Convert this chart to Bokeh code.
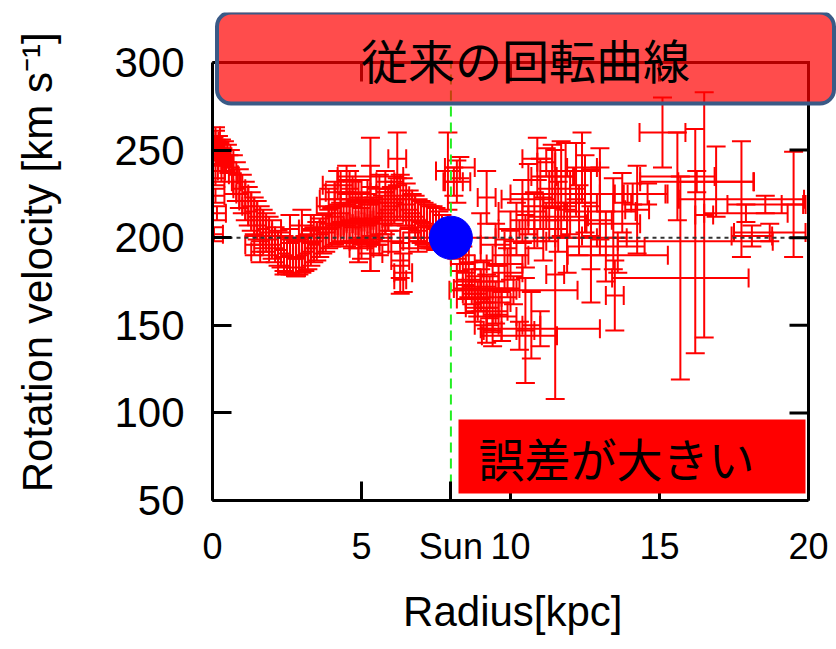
import math
from bokeh.plotting import figure
from bokeh.models import Label, FixedTicker, Range1d, ColumnDataSource
from bokeh.embed import file_html
from bokeh.resources import INLINE

# ---------------- data ----------------
# radius [kpc]
radius = [
    0.05, 0.10, 0.15, 0.20, 0.25, 0.30, 0.35, 0.40, 0.45, 0.50, 0.55, 0.60, 0.10, 0.20, 0.30,
    0.10, 0.10, 0.15, 0.05,
    0.7, 0.8, 0.9, 1.0, 1.1, 1.2, 1.3, 1.4, 1.5, 1.6, 1.7, 1.8, 1.9, 2.0,
    2.1, 2.2, 2.3, 2.4, 2.5, 2.6, 2.7, 2.8, 2.9, 3.0, 3.1, 3.2, 3.3, 3.4, 1.4, 1.6, 2.6, 3.0, 3.3, 2.4, 2.8,
    3.5, 3.6, 3.7, 3.8, 3.9, 4.0, 4.1, 4.2, 4.3, 4.4, 3.9, 4.1, 4.3, 4.6,
    4.5, 4.6, 4.7, 4.8, 4.9, 5.0, 5.1, 5.2, 5.3, 5.4, 5.5, 5.6, 5.7, 5.8, 5.9, 5.3, 5.3, 4.9, 5.3,
    4.2, 4.5, 4.7, 5.0, 5.6, 5.8, 5.0, 5.6, 6.0,
    6.0, 6.1, 6.2, 6.3, 6.4, 6.5, 6.6, 6.7, 6.2, 6.3, 6.4, 6.3,
    6.8, 6.9, 7.0, 7.1, 7.2, 7.3, 7.4, 7.5, 7.6, 7.7, 6.6, 6.9, 7.2, 7.9, 8.1, 8.2, 8.3,
    8.2, 8.3, 8.4, 8.5, 8.6, 8.7, 8.8, 8.9, 9.0, 9.1, 9.2, 9.3, 9.4, 9.5, 9.6, 9.7, 9.8, 9.9, 10.0,
    8.5, 8.8, 9.2, 9.5, 9.0, 9.2, 9.2, 9.4, 10.3, 10.1,
    10.2, 10.4, 10.5, 10.6, 10.8, 11.0, 11.1, 11.3, 11.4, 11.6, 11.7, 11.9, 12.0, 12.2, 12.3, 12.5,
    12.7, 13.0, 13.2, 10.9, 11.2, 12.4, 11.85, 12.7, 13.0, 13.45,
    11.5, 10.5, 10.7, 11.0, 13.6, 13.5, 14.25, 13.75, 14.1, 14.6,
    15.1, 15.6, 15.7, 16.2, 16.5, 16.9, 17.75, 16.25, 17.9, 18.1, 18.55, 18.7, 19.5,
]
# rotation velocity [km/s]
velocity = [
    252, 255, 250, 253, 248, 251, 246, 250, 244, 248, 242, 245, 258, 243, 238,
    234, 224, 214, 202,
    236, 232, 228, 225, 221, 218, 215, 212, 210, 207, 205, 203, 201, 199,
    196, 194, 193, 191, 190, 189, 189, 188, 189, 190, 191, 192, 194, 196, 196, 192, 205, 207, 205, 184, 183,
    198, 200, 202, 203, 205, 206, 207, 208, 209, 208, 218, 222, 226, 228,
    207, 210, 206, 209, 211, 208, 210, 207, 209, 211, 208, 210, 212, 214, 216, 219, 235, 198, 191,
    230, 233, 226, 225, 228, 232, 194, 196, 198,
    218, 220, 222, 224, 222, 219, 216, 214, 245, 187, 180, 176,
    212, 210, 209, 208, 207, 206, 206, 205, 204, 203, 200, 198, 200, 238, 232, 232, 240,
    196, 190, 185, 180, 176, 172, 168, 165, 170, 175, 160, 166, 158, 163, 170, 155, 185, 180, 190,
    165, 160, 150, 196, 200, 223, 171, 147, 144, 170,
    205, 215, 198, 222, 210, 225, 205, 218, 235, 212, 228, 200, 220, 238, 210, 225,
    200, 215, 195, 245, 243, 240, 235, 201, 225, 208,
    179, 147, 150, 148, 190, 167, 216, 220, 225, 225,
    260, 235, 177, 198, 213, 232, 222, 232, 214, 201, 219, 203, 219,
]
# radius error [kpc]
radius_err = [
    0.10, 0.10, 0.10, 0.10, 0.10, 0.10, 0.10, 0.10, 0.10, 0.10, 0.10, 0.10, 0.15, 0.10, 0.12,
    0.3, 0.3, 0.3, 0.3,
    0.15, 0.15, 0.2, 0.2, 0.2, 0.2, 0.2, 0.2, 0.2, 0.2, 0.2, 0.2, 0.2, 0.2,
    0.2, 0.2, 0.2, 0.2, 0.2, 0.2, 0.2, 0.2, 0.2, 0.2, 0.2, 0.2, 0.2, 0.2, 0.3, 0.3, 0.3, 0.4, 0.3, 0.2, 0.3,
    0.2, 0.2, 0.2, 0.3, 0.3, 0.3, 0.3, 0.3, 0.3, 0.3, 0.4, 0.5, 0.5, 0.3,
    0.3, 0.3, 0.3, 0.3, 0.3, 0.3, 0.3, 0.3, 0.3, 0.3, 0.3, 0.3, 0.3, 0.3, 0.3, 0.3, 1.1, 0.3, 0.4,
    0.5, 0.3, 0.6, 0.5, 0.4, 0.3, 0.4, 0.3, 0.4,
    0.3, 0.3, 0.3, 0.3, 0.3, 0.3, 0.3, 0.3, 0.3, 0.3, 0.3, 0.2,
    0.3, 0.3, 0.3, 0.3, 0.3, 0.3, 0.3, 0.3, 0.3, 0.3, 0.3, 0.3, 0.3, 0.4, 0.3, 0.45, 0.5,
    0.3, 0.3, 0.4, 0.3, 0.4, 0.3, 0.4, 0.4, 0.4, 0.5, 0.4, 0.4, 0.5, 0.5, 0.6, 0.5, 0.6, 0.5, 0.6,
    0.3, 0.3, 0.4, 0.5, 0.5, 0.3, 1.1, 0.3, 1.26, 2.15,
    0.6, 0.8, 0.7, 0.9, 0.8, 1.0, 0.8, 0.9, 0.7, 1.0, 0.8, 1.0, 0.9, 0.8, 1.1, 1.0,
    1.2, 1.2, 1.3, 0.5, 0.3, 0.5, 0.3, 0.3, 0.8, 0.9,
    0.3, 0.3, 0.3, 2.0, 1.68, 0.3, 0.4, 0.3, 1.1, 0.67,
    0.77, 1.25, 2.29, 2.6, 0.3, 1.27, 2.1, 1.9, 1.4, 0.68, 1.27, 1.2, 0.4,
]
# velocity error [km/s]
velocity_err = [
    5, 6, 5, 5, 6, 5, 5, 5, 6, 5, 5, 5, 5, 5, 6,
    4, 4, 4, 4,
    11, 11, 11, 11, 11, 11, 11, 11, 11, 11, 11, 11, 11, 11,
    10, 10, 10, 10, 10, 10, 10, 10, 10, 10, 10, 10, 10, 10, 6, 6, 8, 9, 8, 5, 5,
    11, 11, 11, 11, 11, 11, 11, 11, 11, 11, 10, 10, 12, 10,
    12, 12, 12, 12, 12, 12, 12, 12, 12, 12, 12, 12, 12, 12, 12, 38, 6, 12, 10,
    8, 8, 6, 8, 8, 6, 6, 6, 6,
    11, 12, 12, 12, 12, 12, 11, 11, 15, 10, 11, 8,
    12, 12, 12, 12, 12, 12, 12, 12, 11, 10, 6, 6, 6, 22, 8, 12, 6,
    8, 9, 10, 10, 10, 10, 10, 10, 12, 12, 12, 12, 12, 12, 14, 14, 14, 14, 14,
    8, 8, 10, 12, 14, 15, 8, 9, 8, 8,
    15, 18, 15, 20, 16, 20, 18, 20, 18, 20, 27, 20, 18, 16, 20, 22,
    18, 25, 20, 12, 8, 20, 19, 38, 26, 26,
    71, 30, 19, 10, 10, 20, 25, 17, 6, 6,
    20, 25, 58, 64, 70, 20, 33, 6, 5, 6, 5, 5, 30,
]

x_min, x_max = 0, 20
y_min, y_max = 50, 300
sun_radius = 8.0
sun_velocity = 200.0
x_ticks = [0, 5, 8, 10, 15, 20]
x_tick_labels = {0: "0", 5: "5", 8: "Sun", 10: "10", 15: "15", 20: "20"}
x_ticks_mirror = [0, 5, 10, 15, 20]
y_ticks = [50, 100, 150, 200, 250, 300]
title_text = "従来の回転曲線"
note_text = "誤差が大きい"
NBSP = "\u00a0"
x_title = "Radius[kpc]" + NBSP * 2
y_title = "Rotation velocity [km s\u207b\u00b9]" + NBSP

# ---------------- layout constants (pixels) ----------------
W, H = 836, 649
AX_LEFT, AX_RIGHT, AX_TOP, AX_BOTTOM = 212, 808, 62, 500   # axis box in the picture
CANVAS_TOP = 12                                            # frame reaches up to the callout
px_x = (AX_RIGHT - AX_LEFT) / (x_max - x_min)
px_y = (AX_BOTTOM - AX_TOP) / (y_max - y_min)
x_end = x_max + (W - AX_RIGHT) / px_x
y_end = y_max + (AX_TOP - CANVAS_TOP) / px_y

FONT = "Liberation Sans"
JP_FONT = "Noto Sans CJK JP"

p = figure(width=W, height=H, x_range=Range1d(x_min, x_end), y_range=Range1d(y_min, y_end),
           output_backend="svg", toolbar_location=None,
           min_border_left=AX_LEFT, min_border_right=0,
           min_border_top=CANVAS_TOP, min_border_bottom=H - AX_BOTTOM)
p.background_fill_color = "white"
p.border_fill_color = "white"
p.outline_line_color = None
p.grid.visible = False

def style_axis(ax, size):
    ax.axis_line_width = 3
    ax.axis_line_color = "black"
    ax.major_tick_line_width = 3
    ax.major_tick_line_color = "black"
    ax.major_tick_in = 19
    ax.major_tick_out = 0
    ax.minor_tick_line_color = None
    ax.major_label_text_font = FONT
    ax.major_label_text_font_size = size
    ax.major_label_text_color = "black"
    ax.axis_label_text_font = FONT
    ax.axis_label_text_font_style = "normal"
    ax.axis_label_text_color = "black"

xa = p.xaxis[0]
style_axis(xa, "36px")
xa.bounds = (x_min, x_max)
xa.ticker = FixedTicker(ticks=x_ticks)
xa.major_label_overrides = x_tick_labels
xa.major_label_standoff = 25
xa.axis_label = x_title
xa.axis_label_text_font_size = "42px"
xa.axis_label_standoff = 18

ya = p.yaxis[0]
style_axis(ya, "42px")
ya.bounds = (y_min, y_max)
ya.ticker = FixedTicker(ticks=y_ticks)
ya.major_label_standoff = 28
ya.axis_label = y_title
ya.axis_label_text_font_size = "42px"
ya.axis_label_standoff = 50

# ---------------- error bars ----------------
src = ColumnDataSource(dict(
    r=radius, v=velocity,
    r_lo=[a - b for a, b in zip(radius, radius_err)],
    r_hi=[a + b for a, b in zip(radius, radius_err)],
    v_lo=[a - b for a, b in zip(velocity, velocity_err)],
    v_hi=[a + b for a, b in zip(velocity, velocity_err)],
))
RED = "#ff0000"
p.segment(x0="r", y0="v_lo", x1="r", y1="v_hi", source=src, line_color=RED, line_width=2)
p.segment(x0="r_lo", y0="v", x1="r_hi", y1="v", source=src, line_color=RED, line_width=2)
for ycol in ("v_lo", "v_hi"):
    p.scatter(x="r", y=ycol, source=src, marker="dash", size=19, line_color=RED, line_width=2)
for xcol in ("r_lo", "r_hi"):
    p.scatter(x=xcol, y="v", source=src, marker="dash", size=19, angle=math.pi / 2,
              line_color=RED, line_width=2)

# reference lines and the Sun
p.segment(x0=[x_min], y0=[sun_velocity], x1=[x_max], y1=[sun_velocity],
          line_color="#333333", line_width=2, line_dash="4 4")
p.segment(x0=[sun_radius], y0=[y_min], x1=[sun_radius], y1=[y_max],
          line_color="#22ee22", line_width=2, line_dash="10 6")
p.scatter(x=[sun_radius], y=[sun_velocity], size=43, fill_color="#0000ff", line_color="#0000ff")

# mirror frame (top and right edges with inward ticks)
p.segment(x0=[x_min, x_max], y0=[y_max, y_min], x1=[x_max, x_max], y1=[y_max, y_max],
          line_color="black", line_width=3, line_cap="square")
p.ray(x=[x_max] * len(y_ticks), y=y_ticks, length=19, length_units="screen", angle=math.pi,
      line_color="black", line_width=3)
p.ray(x=x_ticks_mirror, y=[y_max] * len(x_ticks_mirror), length=19, length_units="screen",
      angle=-math.pi / 2, line_color="black", line_width=3)

# ---------------- callout boxes ----------------
title_box = Label(x=(525 - AX_LEFT) / px_x, y=y_min + (AX_BOTTOM - 57.5) / px_y,
                  x_units="data", y_units="data", text=title_text,
                  text_font=JP_FONT, text_font_size="47px", text_color="black",
                  text_align="center", text_baseline="middle",
                  background_fill_color="#ff0000", background_fill_alpha=0.7,
                  border_line_color="#3a5a86", border_line_width=4, border_radius=14,
                  padding=dict(left=144, right=144, top=11, bottom=11))
p.add_layout(title_box)

note_box = Label(x=(458 - AX_LEFT) / px_x, y=y_min + (AX_BOTTOM - 456) / px_y,
                 x_units="data", y_units="data", text=note_text,
                 text_font=JP_FONT, text_font_size="46px", text_color="black",
                 text_align="left", text_baseline="middle",
                 background_fill_color="#ff0000", background_fill_alpha=1.0,
                 border_line_color=None,
                 padding=dict(left=20, right=51, top=4, bottom=4))
p.add_layout(note_box)

open("out.html", "w").write(file_html(p, INLINE))
